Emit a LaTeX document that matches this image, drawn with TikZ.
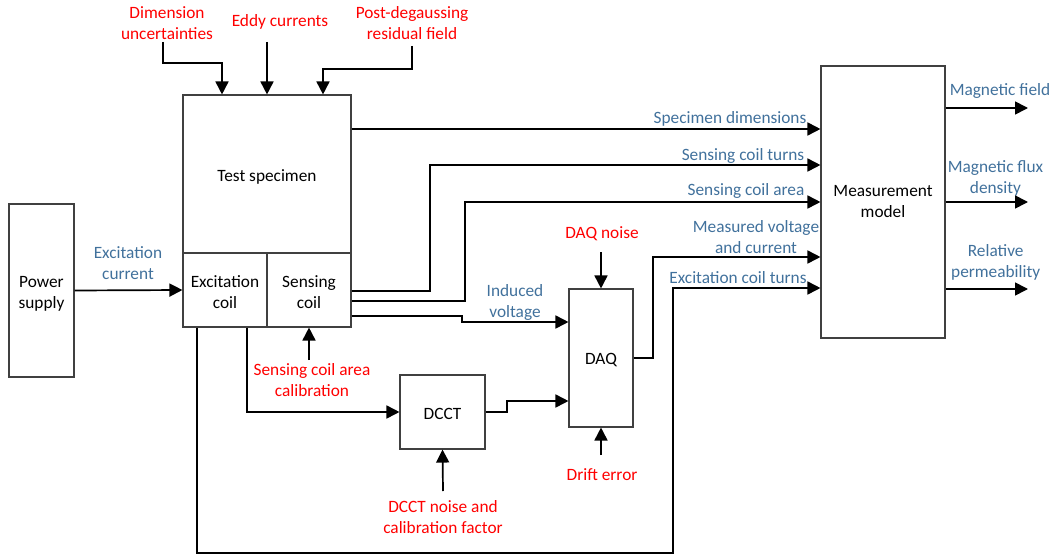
\documentclass[tikz,border=0pt]{standalone}
\usepackage{fontspec}
\setmainfont{Carlito}
\usetikzlibrary{arrows.meta,calc}
\definecolor{lblred}{RGB}{255,0,0}
\definecolor{lblblue}{RGB}{65,113,156}
\begin{document}
\begin{tikzpicture}[x=1pt,y=-1pt,
  box/.style={draw=black!75, line width=1.1pt, inner sep=0pt},
  boxtext/.style={inner sep=0pt, align=center, font=\fontsize{17.3}{21}\selectfont},
  conn/.style={line width=1.7pt, -{Triangle[length=13pt,width=13pt]}},
  redlbl/.style={text=lblred, inner sep=0pt, align=center, font=\fontsize{17.3}{21}\selectfont},
  bluelbl/.style={text=lblblue, inner sep=0pt, align=center, font=\fontsize{17.3}{21}\selectfont}]
\useasboundingbox (0,0) rectangle (1057,559);
% boxes
\node[box, minimum width=65pt, minimum height=173pt] (ps) at (41.5,290.5) {};
\node[box, minimum width=168pt, minimum height=158pt] (spec) at (267,174) {};
\node[box, minimum width=84pt, minimum height=74pt] (exc) at (225,290) {};
\node[box, minimum width=84pt, minimum height=74pt] (sens) at (309,290) {};
\node[box, minimum width=124pt, minimum height=272pt] (mm) at (883,202) {};
\node[box, minimum width=64pt, minimum height=138pt] (daq) at (601,358) {};
\node[box, minimum width=85pt, minimum height=74pt] (dcct) at (442.5,412) {};
% box texts
\node[boxtext] (psT) at ([yshift=-3pt]ps.center) {Power\\supply};
\node[boxtext] (specT) at ([yshift=-2.5pt]spec.center) {Test specimen};
\node[boxtext] (excT) at ([yshift=-2.5pt]exc.center) {Excitation\\coil};
\node[boxtext] (sensT) at ([yshift=-2.5pt]sens.center) {Sensing\\coil};
\node[boxtext] (mmT) at (mm.center) {Measurement\\model};
\node[boxtext] (daqT) at ([yshift=-2pt]daq.center) {DAQ};
\node[boxtext] (dcctT) at ([yshift=-1.5pt]dcct.center) {DCCT};
% red labels
\node[redlbl] (dim) at (167,23) {Dimension\\uncertainties};
\node[redlbl] (eddy) at (280,22) {Eddy currents};
\node[redlbl] (post) at (412,23) {Post-degaussing\\residual field};
\node[redlbl] (sca) at (312,380) {Sensing coil area\\calibration};
\node[redlbl] (dcctn) at (443,517) {DCCT noise and\\calibration factor};
\node[redlbl] (drift) at (602,475) {Drift error};
\node[redlbl] (daqn) at (602,234) {DAQ noise};
% blue labels
\node[bluelbl] (excur) at (128,263.5) {Excitation\\current};
\node[bluelbl] (indv) at (515,302) {Induced\\voltage};
\node[bluelbl] (measv) at (756,237) {Measured voltage\\and current};
\node[bluelbl] (exct) at (738,278) {Excitation coil turns};
\node[bluelbl] (specd) at (730,119) {Specimen dimensions};
\node[bluelbl] (sct) at (743,156) {Sensing coil turns};
\node[bluelbl] (sca2) at (746,191) {Sensing coil area};
\node[bluelbl] (magf) at (1000,91) {Magnetic field};
\node[bluelbl] (magb) at (995.5,178.5) {Magnetic flux\\density};
\node[bluelbl] (relp) at (995.7,262) {Relative\\permeability};
% free-end coordinates
\coordinate (dimS) at (163,42);
\coordinate (eddyS) at (267,42);
\coordinate (postS) at (412,46);
\coordinate (scaS) at (309,360);
\coordinate (daqnS) at (601,252);
\coordinate (driftS) at (601,455);
\coordinate (dcctnS) at (443,491);
\coordinate (o1) at (1028,108);
\coordinate (o2) at (1028,202);
\coordinate (o3) at (1028,289);
% connectors
\draw[conn] (ps.east) -- (exc.west);
\draw[conn] (dimS) |- (222,63) -- (spec.north -| 222,0);
\draw[conn] (eddyS) -- (spec.north);
\draw[conn] (postS) |- (323,69) -- (spec.north -| 323,0);
\draw[conn] (spec.east |- 0,129) -- (mm.west |- 0,129);
\draw[conn] (sens.east |- 0,291) -| (430,165) -- (mm.west |- 0,165);
\draw[conn] (sens.east |- 0,301) -| (465,202) -- (mm.west |- 0,202);
\draw[conn] (sens.east |- 0,316) -| (462,322) -- (daq.west |- 0,322);
\draw[conn] (daq.east) -| (653,257) -- (mm.west |- 0,257);
\draw[conn] (exc.south -| 197,0) -- (197,553) -| (673,288) -- (mm.west |- 0,288);
\draw[conn] (exc.south -| 247,0) |- (dcct.west);
\draw[conn] (dcct.east) -| (507,401) -- (daq.west |- 0,401);
\draw[conn] (scaS) -- (sens.south);
\draw[conn] (daqnS) -- (daq.north);
\draw[conn] (driftS) -- (daq.south);
\draw[conn] (dcctnS) -- (dcct.south);
\draw[conn] (mm.east |- o1) -- (o1);
\draw[conn] (mm.east |- o2) -- (o2);
\draw[conn] (mm.east |- o3) -- (o3);
\end{tikzpicture}
\end{document}
